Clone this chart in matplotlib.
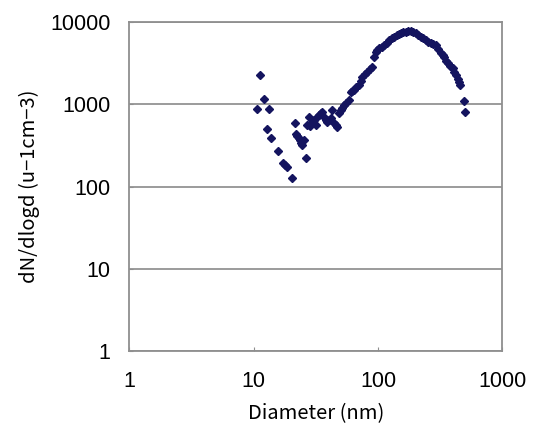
import numpy as np
import matplotlib
matplotlib.use('Agg')
import matplotlib.pyplot as plt
from matplotlib.ticker import FixedLocator, NullLocator, FuncFormatter

# diameter (nm) and dN/dlogd
diameter = [10.6, 11.2, 12.0, 12.7, 13.3, 13.8, 15.6, 17.3, 17.8, 18.4,
            20.4, 21.4, 22.0, 22.4, 23.0, 23.4, 24.0, 24.6, 25.3, 26.3,
            27.0, 27.8, 28.5, 29.5, 30.5, 31.5, 32.5, 33.4, 34.5, 35.6,
            37.0, 38.0, 39.0, 40.3, 41.6, 42.9, 44.2, 45.5, 47.1, 48.5,
            50.0, 51.5, 53.2, 55.5, 58.3, 60.2, 62.0, 64.0, 67.0, 70.3,
            72.5, 74.8, 78.0, 82.0, 86.0, 90.1, 92.9, 95.8, 99.0, 102,
            107, 112, 117, 123, 129, 135, 141, 147, 152, 160,
            167, 175, 184, 192, 201, 210, 221, 232, 243, 254,
            266, 279, 292, 306, 320, 330, 340, 352, 363, 380,
            398, 410, 423, 437, 450, 458, 488, 503]
dn_dlogd = [868, 2270, 1160, 500, 875, 385, 270, 195, 183, 171,
            128, 586, 430, 411, 385, 367, 340, 320, 367, 220,
            560, 694, 540, 610, 645, 560, 700, 740, 780, 811,
            700, 650, 614, 650, 675, 851, 586, 560, 533, 780,
            851, 900, 980, 1030, 1130, 1420, 1450, 1490, 1600, 1710,
            1900, 2160, 2300, 2490, 2700, 2860, 3790, 4360, 4600, 4790,
            5000, 5250, 5600, 6040, 6300, 6620, 6850, 7050, 7280, 7450,
            7630, 7700, 7790, 7550, 7280, 6950, 6620, 6300, 6040, 5750,
            5510, 5350, 5250, 4700, 4160, 3950, 3790, 3400, 3150, 2950,
            2740, 2500, 2270, 2050, 1880, 1720, 1100, 798]

xticks = [1, 10, 100, 1000]
yticks = [1, 10, 100, 1000, 10000]

plt.rcParams['font.family'] = ['Liberation Sans', 'DejaVu Sans']

fig = plt.figure(figsize=(5.33, 4.26), dpi=100)
ax = fig.add_axes([0.2426, 0.176, 0.7, 0.7724])

ax.plot(diameter, dn_dlogd, linestyle='none', marker='D', ms=4.2,
        color='#14145f', zorder=3)

ax.set_xscale('log')
ax.set_yscale('log')
ax.set_xlim(1, 1000)
ax.set_ylim(1, 10000)

ax.xaxis.set_major_locator(FixedLocator(xticks))
ax.yaxis.set_major_locator(FixedLocator(yticks))
ax.xaxis.set_minor_locator(NullLocator())
ax.yaxis.set_minor_locator(NullLocator())
fmt = FuncFormatter(lambda v, p: '%d' % round(v))
ax.xaxis.set_major_formatter(fmt)
ax.yaxis.set_major_formatter(fmt)

ax.yaxis.grid(True, color='#8a8a8a', linewidth=1.2)
ax.set_axisbelow(True)
for s in ax.spines.values():
    s.set_color('#8f8f8f')
    s.set_linewidth(1.3)

ax.tick_params(axis='both', direction='in', length=3, color='#8f8f8f',
               labelsize=15.5)
ax.tick_params(axis='x', pad=14.5)
ax.tick_params(axis='y', pad=13.5)

ax.set_xlabel('Diameter (nm)', fontsize=14.5, labelpad=8,
              family=['Noto Sans CJK JP', 'DejaVu Sans'])
ax.set_ylabel('dN/dlogd (u\u22121cm\u22123)', fontsize=14.5, labelpad=7,
              family=['Noto Sans CJK JP', 'DejaVu Sans'])

fig.savefig('out.png', dpi=100)
